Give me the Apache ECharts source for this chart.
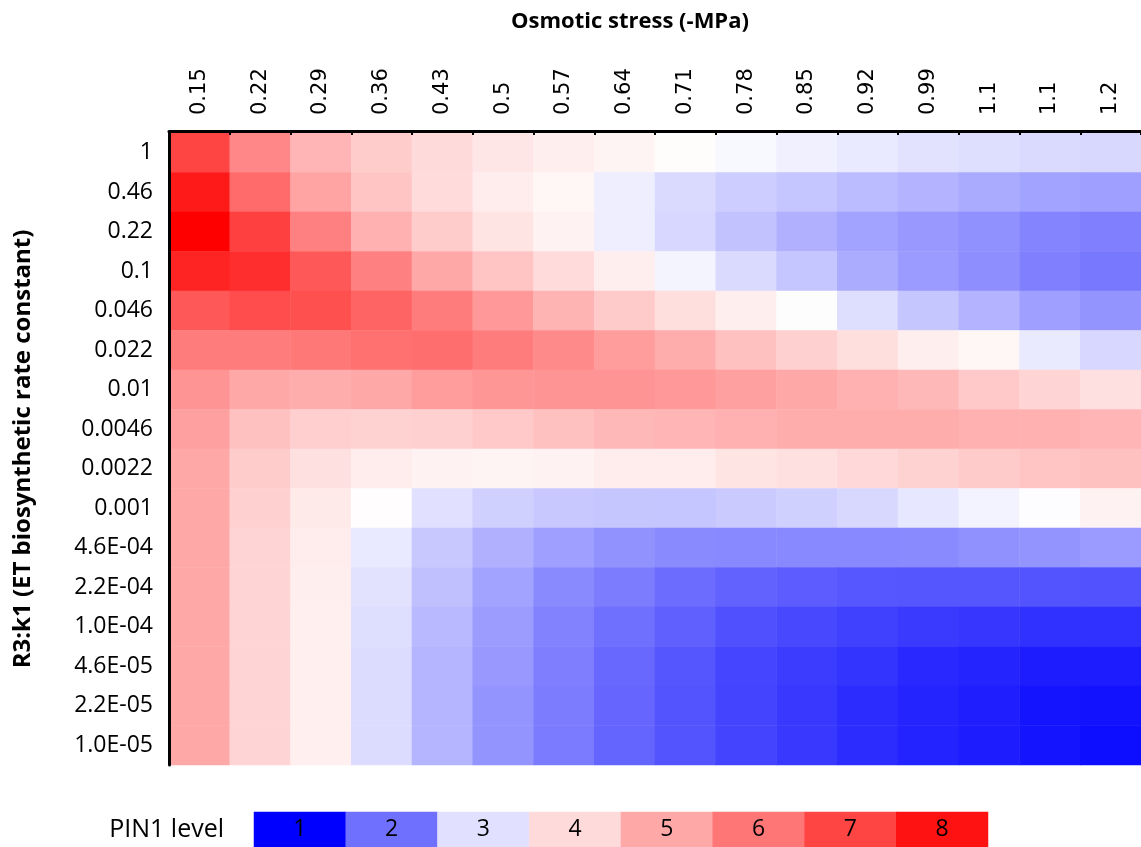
<!DOCTYPE html>
<html>
<head>
<meta charset="utf-8">
<script src="https://cdn.jsdelivr.net/npm/echarts@6/dist/echarts.min.js"></script>
<style>
html,body{margin:0;padding:0;background:#fff;}
#chart{width:1141px;height:847px;}
</style>
</head>
<body>
<div id="chart"></div>
<script>
// Osmotic stress (-MPa) categories (columns)
const osmoticStress = ['0.15','0.22','0.29','0.36','0.43','0.5','0.57','0.64','0.71','0.78','0.85','0.92','0.99','1.1','1.1','1.2'];
// R3:k1 categories (rows, top to bottom)
const rateConstant = ['1','0.46','0.22','0.1','0.046','0.022','0.01','0.0046','0.0022','0.001','4.6E-04','2.2E-04','1.0E-04','4.6E-05','2.2E-05','1.0E-05'];
// PIN1 level, one row per rate constant (top to bottom)
const pin1Level = [
  [7.00,5.66,4.75,4.29,4.01,3.77,3.61,3.49,3.33,3.21,3.14,3.07,3.01,2.98,2.94,2.92],
  [7.84,6.24,5.10,4.44,3.98,3.65,3.45,3.12,2.94,2.83,2.75,2.66,2.59,2.51,2.44,2.42],
  [8.36,7.08,5.81,4.85,4.29,3.81,3.52,3.12,2.91,2.73,2.57,2.44,2.35,2.28,2.18,2.14],
  [7.64,7.44,6.60,5.81,5.00,4.44,3.98,3.61,3.17,2.94,2.75,2.53,2.37,2.26,2.14,2.07],
  [6.60,6.83,6.76,6.36,5.89,5.30,4.77,4.33,3.93,3.61,3.28,2.98,2.76,2.59,2.42,2.32],
  [5.89,5.89,5.96,6.12,6.16,5.89,5.61,5.25,4.93,4.54,4.21,3.93,3.61,3.45,3.08,2.91],
  [5.41,5.00,4.93,5.00,5.25,5.36,5.41,5.41,5.33,5.17,5.00,4.85,4.69,4.36,4.13,3.88],
  [5.17,4.54,4.24,4.17,4.21,4.36,4.54,4.69,4.75,4.85,4.93,4.93,4.93,4.85,4.85,4.75],
  [5.00,4.29,3.88,3.65,3.52,3.49,3.52,3.65,3.63,3.81,3.88,4.03,4.17,4.33,4.44,4.54],
  [5.00,4.21,3.68,3.30,3.00,2.85,2.78,2.76,2.75,2.80,2.85,2.92,3.05,3.16,3.25,3.52],
  [5.00,4.13,3.65,3.07,2.78,2.57,2.42,2.30,2.23,2.21,2.21,2.21,2.23,2.28,2.32,2.37],
  [5.00,4.13,3.61,3.01,2.71,2.44,2.23,2.10,1.96,1.87,1.82,1.78,1.77,1.77,1.75,1.73],
  [5.00,4.13,3.58,2.98,2.64,2.39,2.16,2.00,1.85,1.71,1.64,1.57,1.52,1.48,1.43,1.43],
  [5.00,4.13,3.58,2.96,2.60,2.35,2.12,1.93,1.77,1.62,1.53,1.46,1.36,1.32,1.25,1.25],
  [5.00,4.13,3.58,2.96,2.60,2.32,2.10,1.91,1.75,1.61,1.50,1.39,1.32,1.27,1.18,1.16],
  [5.00,4.13,3.58,2.96,2.60,2.32,2.09,1.89,1.75,1.61,1.50,1.39,1.31,1.25,1.18,1.12]
];
// Legend levels
const legendLevels = [1,2,3,4,5,6,7,8];

// colour scale: blue at min, white at mid point, red at max
const SCALE_MIN = 1, SCALE_MID = 3.27, SCALE_MAX = 8.36;
function scaleColor(v){
  let c;
  if (v <= SCALE_MID){
    c = Math.round(255 * (v - SCALE_MIN) / (SCALE_MID - SCALE_MIN));
    return 'rgb(' + c + ',' + c + ',255)';
  }
  c = Math.round(255 * (SCALE_MAX - v) / (SCALE_MAX - SCALE_MID));
  return 'rgb(255,' + c + ',' + c + ')';
}
const stops = [];
const N = 148;
for (let k = 0; k < N; k++){
  stops.push(scaleColor(SCALE_MIN + (SCALE_MAX - SCALE_MIN) * k / (N - 1)));
}

const heatData = [];
pin1Level.forEach((row, r) => row.forEach((v, c) => heatData.push([c, r, v])));
const legendData = legendLevels.map((v, i) => [i, 0, v]);

const chart = echarts.init(document.getElementById('chart'));
chart.setOption({
  animation: false,
  backgroundColor: '#fff',
  title: {
    text: 'Osmotic stress (-MPa)',
    left: 625,
    top: 6,
    textAlign: 'center',
    textStyle: {fontFamily: 'Open Sans', fontWeight: 'bold', fontSize: 22, color: '#000'}
  },
  grid: [
    {left: 169, top: 133, right: 0, height: 632},
    {left: 254, top: 812, width: 734, height: 35}
  ],
  xAxis: [
    {
      type: 'category', gridIndex: 0, position: 'top', data: osmoticStress, offset: 2, z: 10,
      axisLine: {lineStyle: {color: '#000', width: 3}},
      axisTick: {show: true, inside: true, length: 4, lineStyle: {color: '#000', width: 2}},
      axisLabel: {interval: 0, rotate: -90, margin: 16, fontFamily: 'DejaVu Sans', fontSize: 21, color: '#000'},
      splitLine: {show: false}
    },
    {type: 'category', gridIndex: 1, data: legendLevels, show: false}
  ],
  yAxis: [
    {
      type: 'category', gridIndex: 0, inverse: true, data: rateConstant, z: 10,
      axisLine: {lineStyle: {color: '#000', width: 3}},
      axisTick: {show: false},
      axisLabel: {interval: 0, margin: 16, fontFamily: 'Open Sans', fontSize: 23, color: '#000'},
      name: 'R3:k1 (ET biosynthetic rate constant)',
      nameLocation: 'middle', nameRotate: 90, nameGap: 134,
      nameTextStyle: {fontFamily: 'Open Sans', fontWeight: 'bold', fontSize: 24, color: '#000'}
    },
    {
      type: 'category', gridIndex: 1, data: ['PIN1 level'],
      axisLine: {show: false}, axisTick: {show: false},
      axisLabel: {margin: 30, fontFamily: 'Open Sans', fontSize: 25, color: '#000'}
    }
  ],
  visualMap: {
    type: 'continuous', show: false, min: SCALE_MIN, max: SCALE_MAX,
    dimension: 2, seriesIndex: [0, 1],
    inRange: {color: stops}
  },
  series: [
    {
      type: 'heatmap', xAxisIndex: 0, yAxisIndex: 0, data: heatData,
      itemStyle: {borderWidth: 0},
      emphasis: {disabled: true}
    },
    {
      type: 'heatmap', xAxisIndex: 1, yAxisIndex: 1, data: legendData,
      label: {show: true, formatter: p => p.value[2], fontFamily: 'Open Sans', fontSize: 23, color: '#000'},
      emphasis: {disabled: true}
    }
  ]
});
</script>
</body>
</html>
